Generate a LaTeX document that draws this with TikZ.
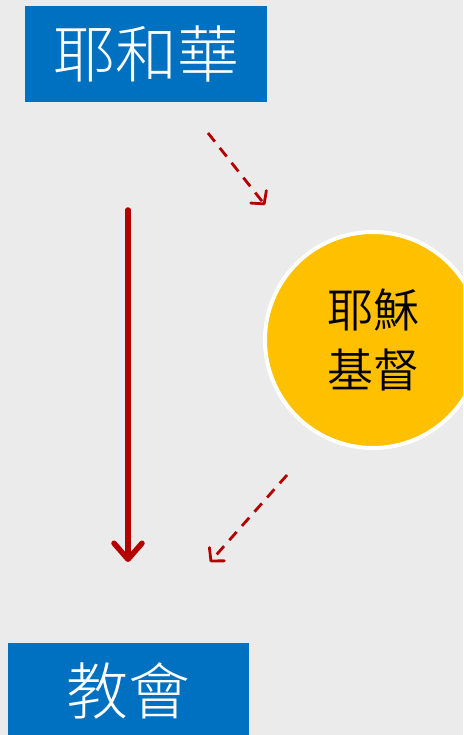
\documentclass[tikz,border=0pt]{standalone}
\usepackage{fontspec}
\newfontfamily\cjk{Noto Sans CJK TC}[UprightFont=* Light]
\newfontfamily\cjkreg{Noto Sans CJK TC}[UprightFont=* DemiLight]
\usetikzlibrary{arrows.meta}
\definecolor{bgcol}{RGB}{235,235,235}
\definecolor{boxblue}{RGB}{0,112,192}
\definecolor{gold}{RGB}{255,192,0}
\definecolor{darkred}{RGB}{180,0,0}
\tikzset{
  bluebox/.style={fill=boxblue, text=white, inner sep=0pt, font=\cjk\fontsize{62}{62}\selectfont},
  goldcircle/.style={circle, fill=gold, draw=white, line width=4pt, inner sep=0pt, minimum size=216pt, align=center, font=\cjkreg\fontsize{46}{60}\selectfont},
  solidarrow/.style={darkred, line width=5.5pt, line cap=round, -{Straight Barb[length=16pt,width=28pt,round]}},
  dasharrow/.style={darkred, line width=2.8pt, dash pattern=on 11pt off 8pt, -{Straight Barb[length=9pt,width=20pt,round]}}
}
\begin{document}
\begin{tikzpicture}[x=1pt,y=-1pt]
\useasboundingbox (0,0) rectangle (463,735);
\clip (0,0) rectangle (463,735);
\fill[bgcol] (0,0) rectangle (463,735);
\node[bluebox, minimum width=242pt, minimum height=96pt] (god) at (146,54) {耶和華};
\node[bluebox, minimum width=241pt, minimum height=96pt] (church) at (128.5,691) {教會};
\node[goldcircle] (christ) at (373,340) {耶穌\\基督};
\coordinate (s1) at (128,210);
\coordinate (e1) at (128,562);
\coordinate (s2) at (208,133);
\coordinate (e2) at (265,205);
\coordinate (s3) at (287,475);
\coordinate (e3) at (210,562);
\draw[solidarrow] (s1) -- (e1);
\draw[dasharrow] (s2) -- (e2);
\draw[dasharrow] (s3) -- (e3);
\end{tikzpicture}
\end{document}
